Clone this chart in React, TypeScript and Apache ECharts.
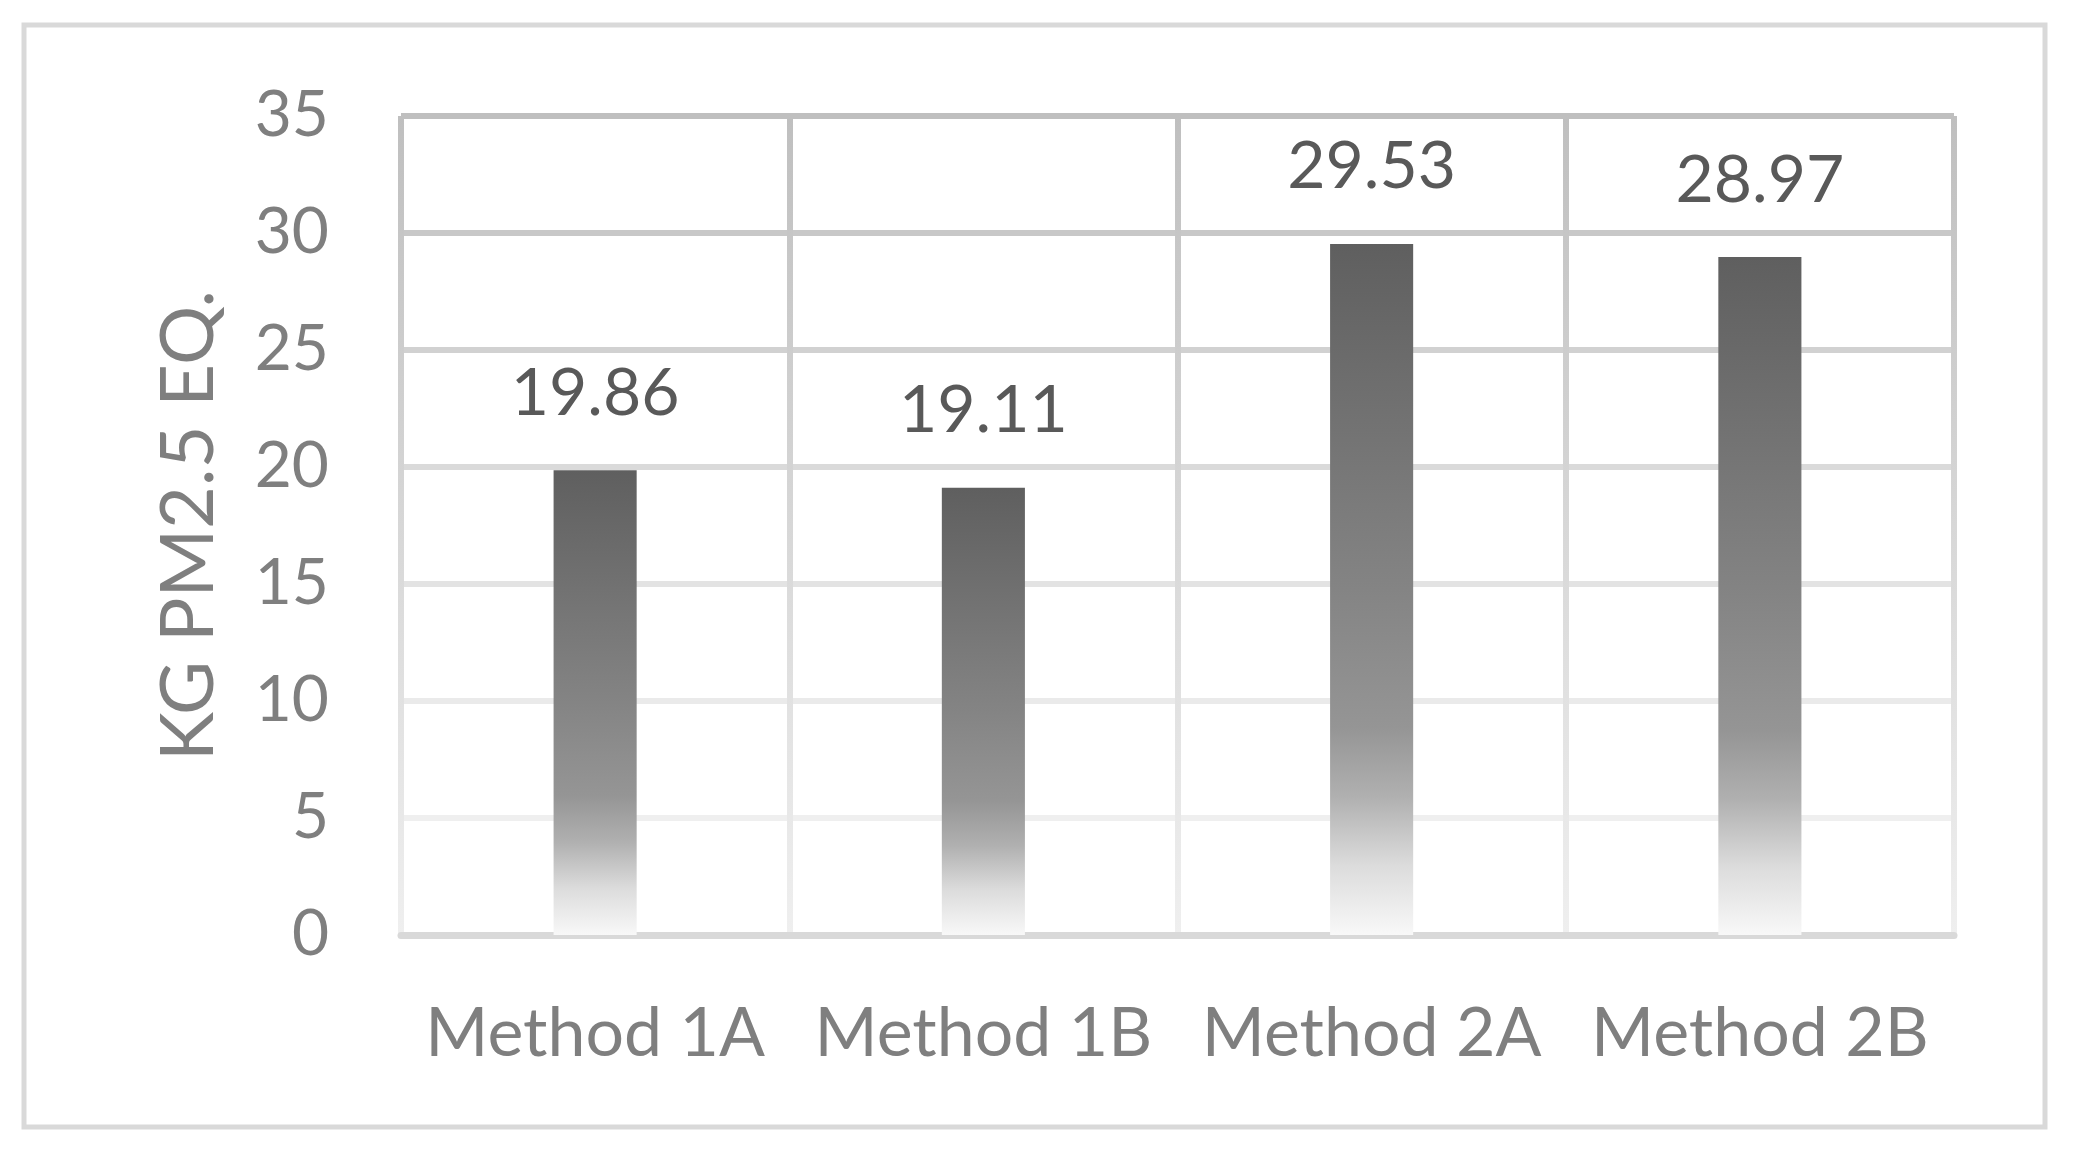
import React, { useEffect, useRef } from "react";
import * as echarts from "echarts";

const categories = ["Method 1A", "Method 1B", "Method 2A", "Method 2B"];
const values = [19.86, 19.11, 29.53, 28.97];
const yMin = 0;
const yMax = 35;
const yInterval = 5;
const yAxisName = "KG PM2.5 EQ.";

export default function App() {
  const ref = useRef<HTMLDivElement>(null);
  useEffect(() => {
    document.body.style.margin = "0";
    const chart = echarts.init(ref.current!, undefined, { renderer: "svg" });
    const font = "Lato";
    chart.setOption({
      animation: false,
      backgroundColor: "#ffffff",
      graphic: [
        {
          type: "rect",
          shape: { x: 24, y: 25, width: 2021, height: 1102 },
          style: { fill: "none", stroke: "#d9d9d9", lineWidth: 5 },
          z: -10,
        },
      ],
      grid: { left: 401, right: 122, top: 116, bottom: 222 },
      xAxis: {
        type: "category",
        data: categories,
        axisTick: { show: false },
        axisLine: { show: true, lineStyle: { color: "#d9d9d9", width: 7 } },
        axisLabel: {
          interval: 0,
          color: "#7f7f7f",
          fontFamily: font,
          fontSize: 68,
          margin: 60,
        },
        splitLine: {
          show: true,
          interval: 0,
          lineStyle: {
            width: 6,
            color: {
              type: "linear",
              x: 0,
              y: 116,
              x2: 0,
              y2: 935,
              global: true,
              colorStops: [
                { offset: 0, color: "#bfbfbf" },
                { offset: 1, color: "#efefef" },
              ],
            },
          },
        },
        z: 1,
      },
      yAxis: {
        type: "value",
        min: yMin,
        max: yMax,
        interval: yInterval,
        name: yAxisName,
        nameLocation: "middle",
        nameGap: 180,
        nameTextStyle: { color: "#7f7f7f", fontFamily: font, fontSize: 74 },
        axisLine: { show: false },
        axisTick: { show: false },
        axisLabel: {
          color: "#7f7f7f",
          fontFamily: font,
          fontSize: 64,
          margin: 72,
          verticalAlign: "bottom",
          lineHeight: 10,
        },
        splitLine: {
          show: true,
          lineStyle: {
            width: 6,
            color: [
              "#efefef",
              "#efefef",
              "#eaeaea",
              "#e3e3e3",
              "#dadada",
              "#d1d1d1",
              "#c8c8c8",
              "#bfbfbf",
            ],
          },
        },
      },
      series: [
        {
          type: "bar",
          data: values,
          barWidth: "21.4%",
          itemStyle: {
            color: {
              type: "linear",
              x: 0,
              y: 0,
              x2: 0,
              y2: 1,
              colorStops: [
                { offset: 0, color: "#5f5f5f" },
                { offset: 0.5, color: "#848484" },
                { offset: 0.7, color: "#959595" },
                { offset: 0.8, color: "#b0b0b0" },
                { offset: 0.9, color: "#dcdcdc" },
                { offset: 1, color: "#f8f8f8" },
              ],
            },
          },
          label: {
            show: true,
            position: "top",
            distance: 48,
            color: "#595959",
            fontFamily: font,
            fontSize: 66,
            formatter: (p: any) => Number(p.value).toFixed(2),
          },
          z: 3,
        },
      ],
    });
    return () => chart.dispose();
  }, []);
  return <div ref={ref} style={{ width: 2076, height: 1157 }} />;
}
